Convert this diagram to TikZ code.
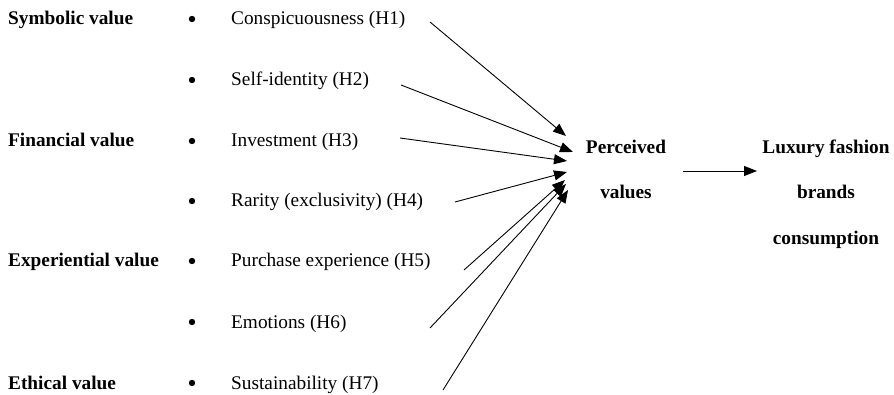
\documentclass[tikz,border=0pt]{standalone}
\usepackage{fontspec}
\setmainfont{Liberation Serif}
\usetikzlibrary{arrows.meta}
\begin{document}
\begin{tikzpicture}[x=1pt,y=-1pt,
  txt/.style={inner sep=0pt,anchor=base west,font=\fontsize{19.3}{23}\selectfont},
  cat/.style={txt,font=\fontsize{19.3}{23}\selectfont\bfseries},
  bul/.style={circle,fill=black,inner sep=0pt,minimum size=6.4pt},
  big/.style={inner sep=0pt,align=center,font=\fontsize{19.3}{45.5}\selectfont\bfseries},
  arr/.style={-{Triangle[length=13pt,width=10pt]},line width=0.9pt}]
\useasboundingbox (0,0) rectangle (894,395);
% category labels
\node[cat] (c1) at (8,25) {Symbolic value};
\node[cat] (c2) at (8,147) {Financial value};
\node[cat] (c3) at (8,267) {Experiential value};
\node[cat] (c4) at (8,389) {Ethical value};
% items
\foreach \i/\y/\t in {1/25/Conspicuousness (H1),2/86/Self-identity (H2),3/147/Investment (H3),4/207/Rarity (exclusivity) (H4),5/267/Purchase experience (H5),6/328/Emotions (H6),7/389/Sustainability (H7)}{
  \node[bul] (b\i) at (192,\y-6) {};
  \node[txt] (i\i) at (231,\y) {\t};
}
% outcome nodes
\node[big,anchor=north] (perc) at (626,139.5) {Perceived\\values};
\node[big,anchor=north] (lux) at (826,139.5) {Luxury fashion\\brands\\consumption};
% arrow start and tip points
\coordinate (s1) at (430,22);  \coordinate (t1) at (566,136);
\coordinate (s2) at (401,85);  \coordinate (t2) at (573,152);
\coordinate (s3) at (400,138); \coordinate (t3) at (567,161);
\coordinate (s4) at (455,202); \coordinate (t4) at (567,172);
\coordinate (s5) at (464,270); \coordinate (t5) at (565,180);
\coordinate (s6) at (430,328); \coordinate (t6) at (566,184);
\coordinate (s7) at (443,390); \coordinate (t7) at (568,190);
\foreach \i in {1,...,7}{\draw[arr] (s\i) -- (t\i);}
\coordinate (p0) at (683,171);
\coordinate (p1) at (757,171);
\draw[arr] (p0) -- (p1);
\end{tikzpicture}
\end{document}
